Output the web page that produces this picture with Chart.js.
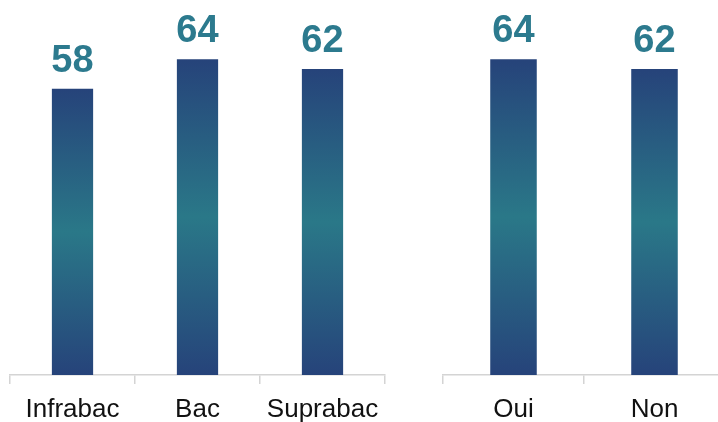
<!DOCTYPE html>
<html lang="fr">
<head>
    <meta charset="UTF-8">
    <title>Infrabac / Bac / Suprabac</title>
    <script src="https://cdn.jsdelivr.net/npm/chart.js"></script>
    <style>
        html, body { margin: 0; padding: 0; background: #fff; overflow: hidden; }
        body { width: 718px; height: 422px; position: relative; }
        .box { position: absolute; top: 0; height: 422px; }
        #left { left: 0; width: 400px; }
        #right { left: 433px; width: 302px; }
    </style>
</head>
<body>
    <div class="box" id="left"><canvas id="chartLeft" width="400" height="422"></canvas></div>
    <div class="box" id="right"><canvas id="chartRight" width="302" height="422"></canvas></div>

    <script>
        // Data
        const categoriesLeft = ["Infrabac", "Bac", "Suprabac"];
        const valuesLeft = [58, 64, 62];
        const categoriesRight = ["Oui", "Non"];
        const valuesRight = [64, 62];

        const darkBlue = "#26437a";
        const teal = "#2a7888";
        const labelColor = "#2c7a8e";

        // vertical gradient per bar: dark at both ends, teal in the middle
        function barGradient(ctx) {
            const chart = ctx.chart;
            if (!chart.chartArea) return darkBlue;
            const y = chart.scales.y;
            const top = y.getPixelForValue(ctx.raw);
            const bottom = y.getPixelForValue(0);
            const g = chart.ctx.createLinearGradient(0, top, 0, bottom);
            g.addColorStop(0, darkBlue);
            g.addColorStop(0.5, teal);
            g.addColorStop(1, darkBlue);
            return g;
        }

        // value labels above bars
        const valueLabels = {
            id: "valueLabels",
            afterDatasetsDraw(chart) {
                const c = chart.ctx;
                const meta = chart.getDatasetMeta(0);
                c.save();
                c.font = "bold 38px 'Liberation Sans', Arial, sans-serif";
                c.fillStyle = labelColor;
                c.textAlign = "center";
                c.textBaseline = "alphabetic";
                meta.data.forEach((bar, i) => {
                    c.fillText(chart.data.datasets[0].data[i], bar.x, bar.y - 17);
                });
                c.restore();
            }
        };

        function makeChart(id, labels, values, padLeft, padRight) {
            return new Chart(document.getElementById(id), {
                type: "bar",
                data: {
                    labels: labels,
                    datasets: [{
                        data: values,
                        backgroundColor: barGradient,
                        borderWidth: 0,
                        categoryPercentage: 1,
                        barPercentage: 0.33,
                    }],
                },
                options: {
                    responsive: false,
                    animation: false,
                    layout: { padding: { left: padLeft, right: padRight, top: 0, bottom: 0 } },
                    plugins: {
                        legend: { display: false },
                        tooltip: { enabled: false },
                    },
                    scales: {
                        x: {
                            offset: true,
                            grid: {
                                offset: true,
                                drawOnChartArea: false,
                                drawTicks: true,
                                tickLength: 9,
                                color: "#d4d4d4",
                                lineWidth: 1.5,
                            },
                            border: { color: "#d4d4d4", width: 1.5 },
                            ticks: {
                                color: "#111",
                                padding: 10,
                                font: { family: "'Liberation Sans', Arial, sans-serif", size: 26 },
                            },
                            afterFit(scale) { scale.height = 47; },
                        },
                        y: {
                            display: false,
                            min: 0,
                            max: 76,
                        },
                    },
                },
                plugins: [valueLabels],
            });
        }

        makeChart("chartLeft", categoriesLeft, valuesLeft, 10, 15);
        makeChart("chartRight", categoriesRight, valuesRight, 10, 10);
    </script>
</body>
</html>
